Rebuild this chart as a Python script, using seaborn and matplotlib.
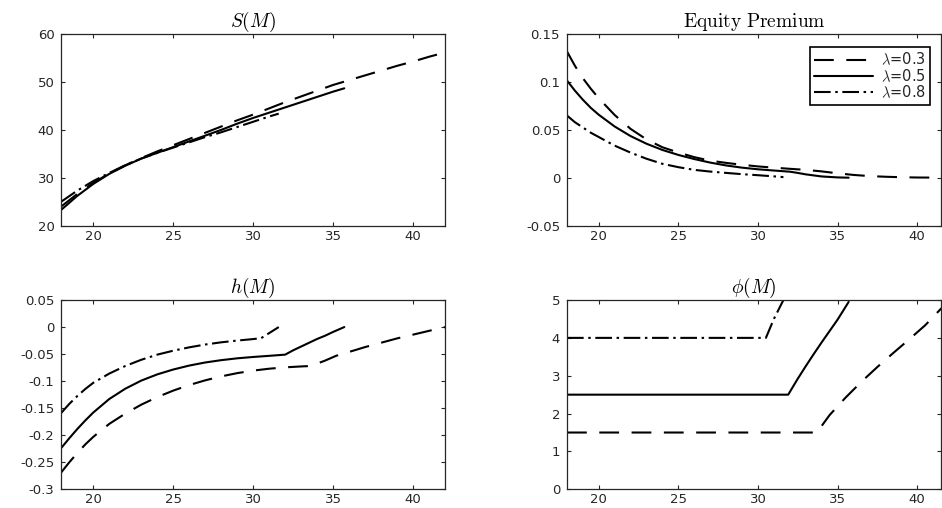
import numpy as np
import pandas as pd
import seaborn as sns
import matplotlib.pyplot as plt

# ---- data (three values of lambda) ----
lam_labels = [r'$\lambda$=0.3', r'$\lambda$=0.5', r'$\lambda$=0.8']

# S(M)
s_x03 = [18, 19, 20, 21, 22, 23, 24, 25, 26, 27, 28, 29, 30, 31, 32, 33, 34, 35, 36, 37, 38, 39, 40, 41, 42]
s_y03 = [24.0, 26.6, 28.9, 30.9, 32.6, 34.1, 35.5, 36.8, 38.1, 39.4, 40.7, 42.0, 43.2, 44.5, 45.8, 47.0,
         48.2, 49.4, 50.4, 51.4, 52.4, 53.4, 54.3, 55.3, 56.2]
s_x05 = [18, 19, 20, 21, 22, 23, 24, 25, 26, 27, 28, 29, 30, 31, 32, 33, 34, 35, 35.7]
s_y05 = [23.3, 26.2, 28.7, 30.8, 32.5, 34.0, 35.2, 36.4, 37.6, 38.8, 40.0, 41.3, 42.5, 43.6, 44.7, 45.8,
         46.9, 48.0, 48.7]
s_x08 = [18, 19, 20, 21, 22, 23, 24, 25, 26, 27, 28, 29, 30, 31, 31.6]
s_y08 = [25.0, 27.3, 29.3, 31.0, 32.6, 34.0, 35.2, 36.3, 37.4, 38.5, 39.5, 40.6, 41.7, 42.8, 43.4]

# Equity premium
ep_x03 = [18, 18.5, 19, 19.5, 20, 21, 22, 23, 24, 25, 26, 27, 28, 29, 30, 31, 32, 33, 34, 35, 36, 37, 38,
          39, 40, 41, 42]
ep_y03 = [0.132, 0.117, 0.104, 0.093, 0.083, 0.0655, 0.051, 0.040, 0.0318, 0.0263, 0.0215, 0.0178, 0.0155,
          0.0135, 0.0118, 0.0105, 0.0093, 0.0082, 0.0066, 0.0046, 0.0029, 0.0017, 0.0010, 0.0005, 0.0002,
          0.0001, 0.0]
ep_x05 = [18, 18.5, 19, 19.5, 20, 21, 22, 23, 24, 25, 26, 27, 28, 29, 30, 31, 32, 32.5, 33, 34, 35, 35.7]
ep_y05 = [0.1016, 0.091, 0.0815, 0.073, 0.0658, 0.0535, 0.0435, 0.0355, 0.029, 0.0238, 0.0195, 0.0158,
          0.0128, 0.0105, 0.0088, 0.0075, 0.0063, 0.0050, 0.0035, 0.0013, 0.0003, 0.0]
ep_x08 = [18, 18.5, 19, 19.5, 20, 21, 22, 23, 24, 25, 26, 27, 28, 29, 30, 31, 31.6]
ep_y08 = [0.065, 0.058, 0.0525, 0.047, 0.0425, 0.0335, 0.0262, 0.0198, 0.0145, 0.011, 0.0082, 0.0064,
          0.0050, 0.0037, 0.0026, 0.0014, 0.0006]

# h(M)
h_x03 = [18, 18.5, 19, 19.5, 20, 21, 22, 23, 24, 25, 26, 27, 28, 29, 30, 31, 32, 33, 33.6, 34.5, 35.2, 36,
         37, 38, 39, 40, 41, 42]
h_y03 = [-0.2685, -0.250, -0.233, -0.217, -0.203, -0.179, -0.160, -0.1435, -0.1295, -0.1175, -0.1072,
         -0.0985, -0.0912, -0.0852, -0.0805, -0.0770, -0.0745, -0.0728, -0.072, -0.062, -0.053, -0.046,
         -0.037, -0.029, -0.021, -0.014, -0.007, 0.0]
h_x05 = [18, 18.5, 19, 19.5, 20, 21, 22, 23, 24, 25, 26, 27, 28, 29, 30, 31, 32, 32.5, 33, 33.5, 34, 34.5,
         35, 35.7]
h_y05 = [-0.2234, -0.2055, -0.1885, -0.1727, -0.158, -0.133, -0.114, -0.099, -0.0875, -0.0785, -0.0712,
         -0.0655, -0.0612, -0.0578, -0.0553, -0.0532, -0.051, -0.043, -0.036, -0.029, -0.022, -0.016,
         -0.009, 0.0]
h_x08 = [18, 18.5, 19, 19.5, 20, 21, 22, 23, 24, 25, 26, 27, 28, 29, 30, 30.5, 31.6]
h_y08 = [-0.1586, -0.142, -0.1275, -0.1145, -0.103, -0.086, -0.072, -0.0605, -0.051, -0.0437, -0.0375,
         -0.0323, -0.0282, -0.025, -0.0222, -0.0205, 0.0]

# phi(M)
phi_x03 = [18, 33.7, 34.5, 35.5, 36.5, 37.5, 38.5, 39.5, 40.5, 41.5, 42]
phi_y03 = [1.5, 1.5, 1.96, 2.42, 2.84, 3.23, 3.6, 3.96, 4.33, 4.77, 4.95]
phi_x05 = [18, 31.9, 32.5, 33, 33.5, 34, 34.5, 35, 35.7]
phi_y05 = [2.5, 2.5, 2.92, 3.25, 3.57, 3.88, 4.18, 4.48, 4.95]
phi_x08 = [18, 30.5, 31.0, 31.6]
phi_y08 = [4.0, 4.0, 4.5, 5.0]

# ---- style ----
sns.set_theme(style="ticks")
plt.rcParams['font.family'] = ['DejaVu Sans']
plt.rcParams['mathtext.fontset'] = 'cm'
plt.rcParams['axes.unicode_minus'] = False
dark = '#262626'

dash_specs = [(0, (9.5, 6)), '-', (0, (8, 2.2, 1.2, 2.2))]

fig = plt.figure(figsize=(9.42, 5.08), dpi=100)
positions = [
    [0.0651, 0.5561, 0.4073, 0.3764],
    [0.6019, 0.5561, 0.3970, 0.3764],
    [0.0651, 0.0368, 0.4073, 0.3726],
    [0.6019, 0.0368, 0.3970, 0.3726],
]
axes = [fig.add_axes(p) for p in positions]

panels = [
    dict(title=r'$S(M)$', series=[(s_x03, s_y03), (s_x05, s_y05), (s_x08, s_y08)],
         xlim=(18, 42), ylim=(20, 60), yticks=[20, 30, 40, 50, 60],
         ylabels=['20', '30', '40', '50', '60']),
    dict(title=r'$\mathrm{Equity\ Premium}$', series=[(ep_x03, ep_y03), (ep_x05, ep_y05), (ep_x08, ep_y08)],
         xlim=(18, 41.5), ylim=(-0.05, 0.15), yticks=[-0.05, 0, 0.05, 0.1, 0.15],
         ylabels=['-0.05', '0', '0.05', '0.1', '0.15']),
    dict(title=r'$h(M)$', series=[(h_x03, h_y03), (h_x05, h_y05), (h_x08, h_y08)],
         xlim=(18, 42), ylim=(-0.3, 0.05),
         yticks=[-0.3, -0.25, -0.2, -0.15, -0.1, -0.05, 0, 0.05],
         ylabels=['-0.3', '-0.25', '-0.2', '-0.15', '-0.1', '-0.05', '0', '0.05']),
    dict(title=r'$\phi(M)$', series=[(phi_x03, phi_y03), (phi_x05, phi_y05), (phi_x08, phi_y08)],
         xlim=(18, 41.5), ylim=(0, 5), yticks=[0, 1, 2, 3, 4, 5],
         ylabels=['0', '1', '2', '3', '4', '5']),
]

for ax, p in zip(axes, panels):
    for (xs, ys), ls, lab in zip(p['series'], dash_specs, lam_labels):
        df = pd.DataFrame({'M': xs, 'v': ys})
        sns.lineplot(data=df, x='M', y='v', ax=ax, color='black', linewidth=1.5,
                     linestyle=ls, label=lab, legend=False)
    ax.set_xlim(*p['xlim'])
    ax.set_ylim(*p['ylim'])
    ax.set_xticks([20, 25, 30, 35, 40])
    ax.set_xticklabels(['20', '25', '30', '35', '40'])
    ax.set_yticks(p['yticks'])
    ax.set_yticklabels(p['ylabels'])
    ax.set_xlabel('')
    ax.set_ylabel('')
    ax.set_title(p['title'], fontsize=14, color='black', pad=5)
    ax.tick_params(direction='in', length=3, width=0.8, top=True, right=True,
                   labelsize=9.5, colors=dark, labelcolor=dark)
    ax.tick_params(axis='x', pad=3)
    ax.tick_params(axis='y', pad=5)
    for sp in ax.spines.values():
        sp.set_visible(True)
        sp.set_color(dark)
        sp.set_linewidth(0.9)

leg = axes[1].legend(loc='upper right', bbox_to_anchor=(0.97, 0.934), borderaxespad=0,
                     fontsize=10.5, handlelength=4.0, handletextpad=0.55, labelspacing=0.0,
                     borderpad=0.3, fancybox=False, framealpha=1, edgecolor='black')
leg.get_frame().set_linewidth(1.2)

plt.savefig("out.png", dpi=100)
plt.close()
